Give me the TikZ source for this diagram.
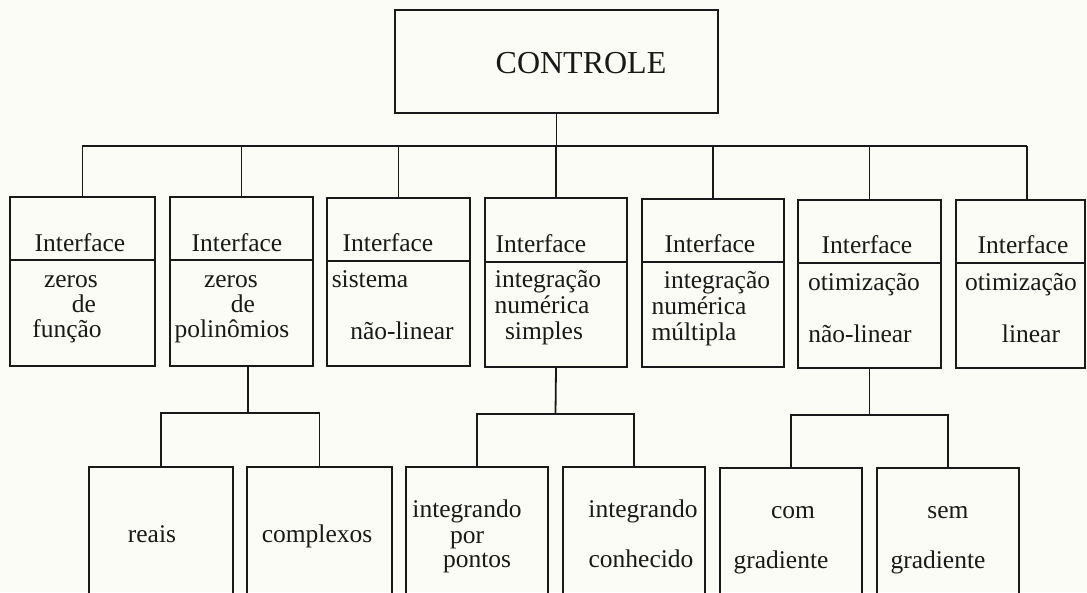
\documentclass[tikz,border=0pt]{standalone}
\usepackage{fontspec}
\setmainfont{Liberation Serif}
\definecolor{paper}{RGB}{252,252,246}
\definecolor{ink}{RGB}{25,25,25}
\begin{document}
\begin{tikzpicture}[x=1pt,y=-1pt,
  box/.style={draw=ink, line width=1.8pt, rectangle, inner sep=0pt},
  wire/.style={draw=ink, line width=1.8pt},
  txt/.style={anchor=base, inner sep=0pt, text=ink, font=\fontsize{25.5}{30}\selectfont},
  big/.style={anchor=base, inner sep=0pt, text=ink, font=\fontsize{32}{38}\selectfont}]
\clip (0,0) rectangle (1087,592);
\fill[paper] (0,0) rectangle (1087,592);

% top box
\node[box, minimum width=323pt, minimum height=103pt] (C) at (556.5,61.5) {};
\node[big] (tC) at (581,73) {CONTROLE};

% level-2 boxes
\node[box, minimum width=145pt, minimum height=169pt] (b1) at (82.5,281.5) {};
\node[box, minimum width=143pt, minimum height=169pt] (b2) at (241.5,281.5) {};
\node[box, minimum width=143pt, minimum height=168pt] (b3) at (398.5,282) {};
\node[box, minimum width=142pt, minimum height=169pt] (b4) at (556,282.5) {};
\node[box, minimum width=142pt, minimum height=168pt] (b5) at (713,283) {};
\node[box, minimum width=143pt, minimum height=168pt] (b6) at (869.5,284) {};
\node[box, minimum width=129pt, minimum height=168pt] (b7) at (1020.5,284) {};

% dividers
\draw[wire] (b1.west |- 0,260) -- (b1.east |- 0,260);
\draw[wire] (b2.west |- 0,260) -- (b2.east |- 0,260);
\draw[wire] (b3.west |- 0,261) -- (b3.east |- 0,261);
\draw[wire] (b4.west |- 0,262) -- (b4.east |- 0,262);
\draw[wire] (b5.west |- 0,262) -- (b5.east |- 0,262);
\draw[wire] (b6.west |- 0,263) -- (b6.east |- 0,263);
\draw[wire] (b7.west |- 0,263) -- (b7.east |- 0,263);

% level-3 boxes
\node[box, minimum width=144pt, minimum height=133pt] (r1) at (161,533.5) {};
\node[box, minimum width=145pt, minimum height=133pt] (r2) at (319.5,533.5) {};
\node[box, minimum width=142pt, minimum height=133pt] (r3) at (477,533.5) {};
\node[box, minimum width=142pt, minimum height=133pt] (r4) at (634,533.5) {};
\node[box, minimum width=142pt, minimum height=132pt] (r5) at (791,534) {};
\node[box, minimum width=142pt, minimum height=132pt] (r6) at (948,534) {};

% main bus
\coordinate (busL) at (82,146);
\coordinate (busR) at (1027,146);
\draw[wire] (C.south) -- (C.south |- busL);
\draw[wire] (busL) -- (busR);
\foreach \n in {b1,b2,b3,b4,b5,b6} \draw[wire] (\n.north) -- (\n.north |- busL);
\draw[wire] ([xshift=6.5pt]b7.north) -- ([xshift=6.5pt]b7.north |- busL);

% sub buses
\coordinate (j1) at (248,413);
\coordinate (j2) at (555.5,414);
\coordinate (j3) at (869.5,415);
\draw[wire] ([xshift=6.5pt]b2.south) -- (j1);
\draw[wire] (r1.north) |- (j1) -| (r2.north);
\draw[wire] (b4.south) -- (j2);
\draw[wire] (r3.north) |- (j2) -| (r4.north);
\draw[wire] (b6.south) -- (j3);
\draw[wire] (r5.north) |- (j3) -| (r6.north);

% texts level 2
\node[txt] (h1) at (80,251) {Interface};
\node[txt] (h2) at (237,251) {Interface};
\node[txt] (h3) at (388,251) {Interface};
\node[txt] (h4) at (541,252) {Interface};
\node[txt] (h5) at (710,252) {Interface};
\node[txt] (h6) at (867,253) {Interface};
\node[txt] (h7) at (1023,253) {Interface};

\node[txt] (t1a) at (71,287) {zeros};
\node[txt] (t1b) at (84,312) {de};
\node[txt] (t1c) at (67,337) {função};

\node[txt] (t2a) at (231,287) {zeros};
\node[txt] (t2b) at (243,312) {de};
\node[txt] (t2c) at (232,337) {polinômios};

\node[txt] (t3a) at (370,287) {sistema};
\node[txt] (t3b) at (402,339) {não-linear};

\node[txt] (t4a) at (548,287) {integração};
\node[txt] (t4b) at (542,313) {numérica};
\node[txt] (t4c) at (544,339) {simples};

\node[txt] (t5a) at (717,288) {integração};
\node[txt] (t5b) at (699,314) {numérica};
\node[txt] (t5c) at (694,340) {múltipla};

\node[txt] (t6a) at (864,290) {otimização};
\node[txt] (t6b) at (860,342) {não-linear};

\node[txt] (t7a) at (1021,290) {otimização};
\node[txt] (t7b) at (1031,342) {linear};

% texts level 3
\node[txt] (u1) at (152,542) {reais};
\node[txt] (u2) at (317,542) {complexos};
\node[txt] (u3a) at (467,517) {integrando};
\node[txt] (u3b) at (467,543) {por};
\node[txt] (u3c) at (477,567) {pontos};
\node[txt] (u4a) at (643,517) {integrando};
\node[txt] (u4b) at (641,567) {conhecido};
\node[txt] (u5a) at (793,518) {com};
\node[txt] (u5b) at (781,568) {gradiente};
\node[txt] (u6a) at (948,518) {sem};
\node[txt] (u6b) at (938,568) {gradiente};
\end{tikzpicture}
\end{document}
